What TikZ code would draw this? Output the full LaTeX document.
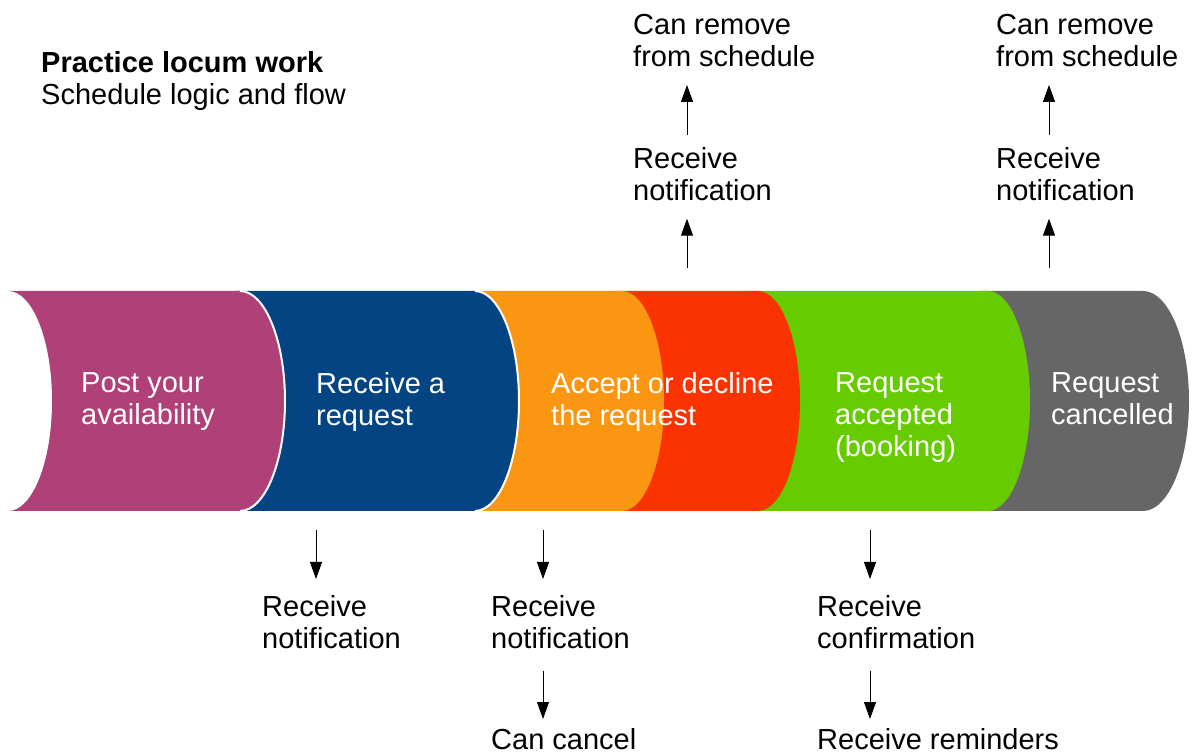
\documentclass[tikz,border=0pt]{standalone}
\usepackage{fontspec}
\setmainfont{Liberation Sans}
\usetikzlibrary{arrows.meta}
\definecolor{cpurple}{RGB}{176,64,120}
\definecolor{cblue}{RGB}{4,68,131}
\definecolor{corange}{RGB}{251,150,18}
\definecolor{cred}{RGB}{251,51,0}
\definecolor{cgreen}{RGB}{102,204,0}
\definecolor{cgray}{RGB}{102,102,102}
\newcommand\bandseg[4]{\fill[#1] (#2,242) -- (#3,242) arc[start angle=-90,end angle=90,x radius=#4pt,y radius=110pt] -- (#2,462) -- cycle;}
\newcommand\bandedge[2]{\draw[white,line width=2pt] (#1,242) arc[start angle=-90,end angle=90,x radius=#2pt,y radius=110pt];}
\tikzset{
  lbl/.style={inner sep=0pt, anchor=north west, align=left, font=\fontsize{29}{32}\selectfont},
  bandlbl/.style={lbl, text=white},
  flow/.style={line width=0.9pt, -{Triangle[length=17pt,width=12pt]}}
}
\begin{document}
\begin{tikzpicture}[x=1pt,y=1pt]
\useasboundingbox (0,0) rectangle (1192,753);
\fill[white] (0,0) rectangle (1192,753);
% band, drawn right to left
\bandseg{cgray}{980}{1143}{46}
\bandseg{cgreen}{750}{988}{42}
\bandseg{cred}{615}{758}{42}
\bandseg{corange}{470}{622}{42}
\bandseg{cblue}{235}{475}{44}
\bandedge{475}{44}
\bandseg{cpurple}{8}{240}{45}
\bandedge{240}{45}
\fill[white] (8,352) ellipse[x radius=44pt, y radius=110pt];
% title
\node[lbl] (title) at (41,702) {\textbf{Practice locum work}\\Schedule logic and flow};
% band labels
\node[bandlbl] (post) at (81,381) {Post your\\availability};
\node[bandlbl] (recv) at (316,381) {Receive a\\request};
\node[bandlbl] (acc) at (551,381) {Accept or decline\\the request};
\node[bandlbl] (book) at (835,381) {Request\\accepted\\(booking)};
\node[bandlbl] (canc) at (1051,381) {Request\\cancelled};
% top labels
\node[lbl] (rm1) at (633,739) {Can remove\\from schedule};
\node[lbl] (tn1) at (633,606) {Receive\\notification};
\node[lbl] (rm2) at (996,739) {Can remove\\from schedule};
\node[lbl] (tn2) at (996,606) {Receive\\notification};
% bottom labels
\node[lbl] (bn1) at (262,158) {Receive\\notification};
\node[lbl] (bn2) at (491,158) {Receive\\notification};
\node[lbl] (cc) at (491,25) {Can cancel};
\node[lbl] (conf) at (817,158) {Receive\\confirmation};
\node[lbl] (rem) at (817,25) {Receive reminders};
% arrow start points at the band
\coordinate (ta1) at (687,485);
\coordinate (ta2) at (1049,485);
\coordinate (ba1) at (316,223);
\coordinate (ba2) at (543,223);
\coordinate (ba3) at (870,223);
% connectors
\draw[flow, shorten >=18pt] (ta1) -- (ta1 |- tn1.south);
\draw[flow, shorten <=12pt, shorten >=18pt] (ta1 |- tn1.north) -- (ta1 |- rm1.south);
\draw[flow, shorten >=18pt] (ta2) -- (ta2 |- tn2.south);
\draw[flow, shorten <=12pt, shorten >=18pt] (ta2 |- tn2.north) -- (ta2 |- rm2.south);
\draw[flow, shorten >=16pt] (ba1) -- (ba1 |- bn1.north);
\draw[flow, shorten >=16pt] (ba2) -- (ba2 |- bn2.north);
\draw[flow, shorten <=22pt, shorten >=9pt] (ba2 |- bn2.south) -- (ba2 |- cc.north);
\draw[flow, shorten >=16pt] (ba3) -- (ba3 |- conf.north);
\draw[flow, shorten <=22pt, shorten >=9pt] (ba3 |- conf.south) -- (ba3 |- rem.north);
\end{tikzpicture}
\end{document}
